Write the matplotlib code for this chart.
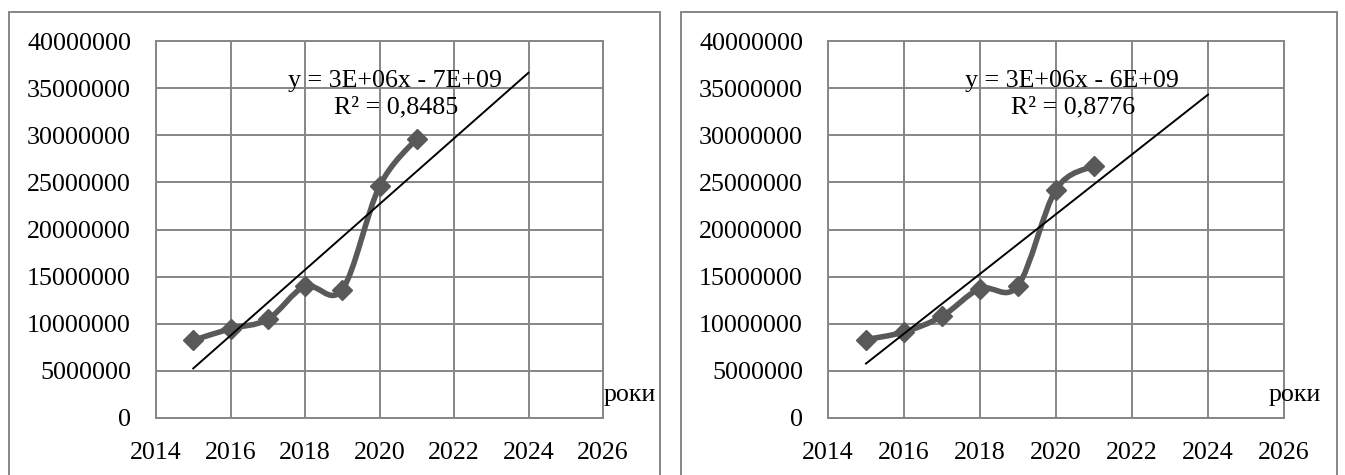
import numpy as np
import matplotlib
matplotlib.use("Agg")
import matplotlib.pyplot as plt
from matplotlib.path import Path
from matplotlib.patches import PathPatch, Rectangle
from matplotlib.ticker import FuncFormatter, MultipleLocator

plt.rcParams["font.family"] = ["Liberation Serif", "DejaVu Serif"]

# ---------------------------------------------------------
# Data
# ---------------------------------------------------------

years = [2015, 2016, 2017, 2018, 2019, 2020, 2021]

values_left = [8240000, 9480000, 10470000, 13980000, 13620000, 24590000, 29650000]
values_right = [8320000, 9130000, 10790000, 13730000, 14050000, 24240000, 26750000]

eq_left = "y = 3E+06x - 7E+09"
r2_left = "R² = 0,8485"
eq_right = "y = 3E+06x - 6E+09"
r2_right = "R² = 0,8776"

axis_label = "роки"
trend_end = 2024

W, H = 1345, 475
FS = 18.7
GRID = "#868686"
SERIES = "#595959"


def smooth_path(xs, ys):
    # cubic bezier through the points, catmull-rom style tangents
    pts = np.column_stack([xs, ys]).astype(float)
    n = len(pts)
    verts = [pts[0]]
    codes = [Path.MOVETO]
    for i in range(n - 1):
        p0 = pts[max(i - 1, 0)]
        p1 = pts[i]
        p2 = pts[i + 1]
        p3 = pts[min(i + 2, n - 1)]
        verts += [p1 + (p2 - p0) / 6, p2 - (p3 - p1) / 6, p2]
        codes += [Path.CURVE4] * 3
    return Path(verts, codes)


def draw_panel(ax, values, eq, r2, label_x):

    ax.set_xlim(2014, 2026)
    ax.set_ylim(0, 40000000)
    ax.xaxis.set_major_locator(MultipleLocator(2))
    ax.yaxis.set_major_locator(MultipleLocator(5000000))
    ax.yaxis.set_major_formatter(FuncFormatter(lambda v, _: f"{int(v)}"))

    ax.grid(True, color=GRID, lw=1.4)
    ax.set_axisbelow(True)
    for s in ax.spines.values():
        s.set_color(GRID)
        s.set_linewidth(1.4)

    ax.tick_params(length=0, labelsize=FS, colors="black")
    ax.tick_params(axis="y", pad=18)
    ax.tick_params(axis="x", pad=17)

    # smoothed series line + diamond markers
    ax.add_patch(PathPatch(smooth_path(years, values), fill=False,
                           edgecolor=SERIES, lw=4,
                           capstyle="round", joinstyle="round", zorder=3))
    ax.plot(years, values, "D", color=SERIES, ms=10.5, zorder=4)

    # linear trend, extended forward
    k, b = np.polyfit(years, values, 1)
    tx = np.array([years[0], trend_end])
    ax.plot(tx, k * tx + b, color="black", lw=1.4, zorder=5)

    ax.text(2020.42, 35800000, eq, ha="center", va="center", fontsize=FS, zorder=6)
    ax.text(2020.45, 32900000, r2, ha="center", va="center", fontsize=FS, zorder=6)

    ax.text(label_x, 1800000, axis_label, ha="left", va="baseline",
            fontsize=FS, clip_on=False, zorder=6)


fig = plt.figure(figsize=(W / 100, H / 100), dpi=100)

ax1 = fig.add_axes([156 / W, (H - 418) / H, 447 / W, 377 / H])
ax2 = fig.add_axes([828 / W, (H - 418) / H, 456 / W, 377 / H])

draw_panel(ax1, values_left, eq_left, r2_left, 2026.02)
draw_panel(ax2, values_right, eq_right, r2_right, 2025.6)

# chart frames
for x0, x1 in [(9, 660), (681, 1337)]:
    fig.add_artist(Rectangle((x0 / W, -0.05), (x1 - x0) / W, (H - 12) / H + 0.05,
                             transform=fig.transFigure, fill=False,
                             edgecolor=GRID, lw=1.4))

fig.savefig("out.png", dpi=100)
